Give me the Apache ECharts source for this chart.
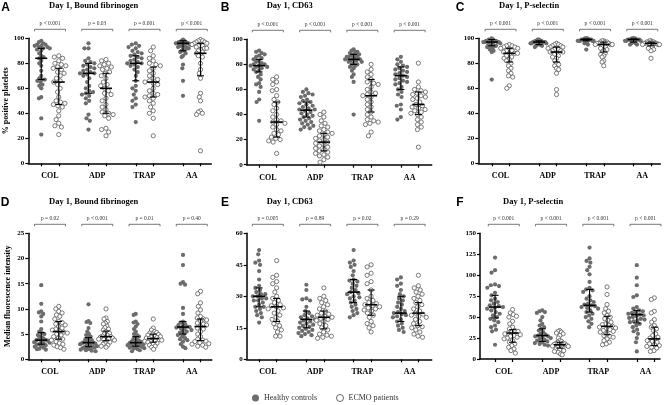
<!DOCTYPE html>
<html><head><meta charset="utf-8">
<script src="https://cdn.jsdelivr.net/npm/echarts@6/dist/echarts.min.js"></script>
<style>html,body{margin:0;padding:0;background:#fff}#c{width:669px;height:405px}</style>
</head><body><div id="c"></div>
<script>
const categories = ['COL', 'ADP', 'TRAP', 'AA'];
const cohortNames = ['Healthy controls', 'ECMO patients'];

// ---- Panel A: Day 1, Bound fibrinogen (% positive platelets)
const fibPctTicks = [0, 20, 40, 60, 80, 100];
const fibPctHealthy = [
  [98,97,96,95,95,94,94,93,93,92,92,91,90,88,86,85,84,82,80,78,74,70,68,67,67,66,65,63,62,60,53,52,36,23],
  [96,92,92,84,82,81,80,79,78,77,76,75,74,73,72,72,71,70,68,65,62,60,58,57,56,55,54,52,50,48,39,36,34,27],
  [96,95,94,93,92,90,89,88,87,86,85,84,83,82,81,80,80,79,78,77,75,73,70,66,62,60,58,55,52,50,47,45,33],
  [99,98,98,97,97,97,96,96,96,96,95,95,95,94,94,94,93,93,92,92,91,90,90,89,88,86,85,79,76,66,54]
];
const fibPctEcmo = [
  [86,85,84,82,80,79,78,77,76,75,73,72,70,68,66,65,63,60,57,53,50,49,48,47,46,45,42,38,35,32,30,29,23],
  [83,82,80,79,78,77,76,75,73,72,70,68,65,63,62,60,58,56,55,52,50,47,45,43,41,40,39,38,36,28,27,25,22],
  [93,90,86,84,82,80,79,78,76,74,72,70,68,67,66,65,64,63,60,58,56,55,54,53,52,50,48,45,42,40,36,22],
  [99,98,98,97,97,96,96,95,95,94,94,93,92,92,91,90,89,88,87,86,85,80,75,72,68,56,53,50,42,41,40,39,10]
];
const fibPctHealthyStats = [[84,67,92],[72,56,80],[80,66,86],[96,90,98]];
const fibPctEcmoStats = [[65,47,76],[60,40,72],[65,53,77],[88,70,96]];
const fibPctP = ['p < 0.001', 'p = 0.03', 'p = 0.001', 'p < 0.001'];

// ---- Panel B: Day 1, CD63 (%)
const cd63PctTicks = [0, 20, 40, 60, 80, 100];
const cd63PctHealthy = [
  [91,90,89,88,87,86,85,84,83,82,81,80,80,79,79,78,78,77,76,75,74,72,70,68,65,64,62,58,52,50,35],
  [60,58,57,56,55,54,52,51,50,49,48,47,46,45,44,44,43,42,41,40,39,38,37,36,35,34,33,32,31,30,29,28],
  [92,91,90,90,89,88,88,87,87,86,86,85,85,84,84,84,83,83,82,82,81,80,80,79,78,77,75,72,70,66,40],
  [86,84,82,80,79,78,77,76,75,74,73,72,71,70,69,68,67,66,65,64,62,60,58,56,54,48,47,44,38,36]
];
const cd63PctEcmo = [
  [70,68,66,64,60,59,55,52,50,48,45,43,40,38,36,35,34,33,32,30,28,27,25,24,22,21,20,19,18,9],
  [42,40,38,35,33,31,30,28,27,26,25,24,23,22,21,20,19,18,17,16,15,14,13,12,11,10,9,8,7,6,4,2],
  [80,76,74,72,70,68,66,65,64,62,60,58,57,56,55,54,52,50,48,46,44,42,40,38,36,35,34,33,32,26,23],
  [81,66,62,60,59,58,57,56,55,54,53,52,50,48,47,46,45,44,43,42,41,40,38,36,34,32,30,28,14]
];
const cd63PctHealthyStats = [[79,74,84],[43.5,38,50],[84,80,88],[71,60,78]];
const cd63PctEcmoStats = [[34,22,50],[18,11,25],[55,42,68],[48,40,58]];
const cd63PctP = ['p < 0.001', 'p < 0.001', 'p < 0.001', 'p < 0.001'];

// ---- Panel C: Day 1, P-selectin (%)
const pselPctTicks = [0, 20, 40, 60, 80, 100];
const pselPctHealthy = [
  [100,99,99,99,98,98,98,98,97,97,97,97,96,96,96,95,95,94,94,93,93,92,91,90,89,67],
  [99,99,98,98,98,98,97,97,97,97,97,96,96,96,96,95,95,95,94,94,93],
  [100,100,100,99,99,99,99,99,99,98,98,98,98,98,97,97,96,95,91],
  [100,100,100,99,99,99,99,99,99,98,98,98,97,97,96,96,95,95]
];
const pselPctEcmo = [
  [95,94,94,93,93,92,92,91,90,90,89,88,88,87,86,85,84,83,82,80,78,76,74,72,70,69,62,60],
  [96,95,95,94,94,93,93,92,92,91,91,90,90,89,89,88,87,86,85,84,82,80,79,78,76,75,72,59,55],
  [98,98,97,97,97,96,96,96,95,95,95,94,94,93,92,91,90,89,88,87,86,85,82,81,78],
  [98,98,97,97,97,97,96,96,96,96,95,95,95,94,94,93,92,91,90,84]
];
const pselPctHealthyStats = [[97,94,99],[97,95,98],[99,98,99.5],[99,97,99.5]];
const pselPctEcmoStats = [[88,81,92],[89,81,93],[95,89,97],[96,94,97]];
const pselPctP = ['p < 0.001', 'p < 0.001', 'p < 0.001', 'p < 0.001'];

// ---- Panel D: Day 1, Bound fibrinogen (MFI)
const fibMfiTicks = [0, 5, 10, 15, 20, 25];
const fibMfiHealthy = [
  [14.7,11,9.5,9.3,9,8.5,7.5,6,5.5,5.2,5,4.8,4.5,4.2,4,3.9,3.8,3.7,3.5,3.4,3.3,3.2,3,2.9,2.8,2.6,2.5,2.3,2.1,2,1.9],
  [10.9,7.6,7.4,7.2,6.2,5.5,5,4.8,4.5,4.2,4,3.8,3.6,3.5,3.4,3.3,3.2,3.1,3,2.9,2.8,2.7,2.6,2.5,2.4,2.3,2.2,2.1,2,1.9,1.8,1.7,1.6],
  [9,8.8,7.5,7.3,7,6.5,6,5.5,5,4.8,4.5,4.2,4,3.8,3.6,3.5,3.4,3.3,3.2,3.1,3,2.9,2.8,2.7,2.6,2.5,2.4,2.3,2.2,2.1,2,1.8,1.6],
  [20.7,18.7,15.3,15,14.8,10.2,9,7.5,7.3,7,6.8,6.6,6.5,6.4,6.3,6.2,6,5.8,5.6,5.5,5.3,5,4.8,4.5,4.2,4,3.8,3.5,3,2.5,2.2]
];
const fibMfiEcmo = [
  [10.5,10,9.5,9.2,8.8,8.5,8,7.5,7.3,7,6.8,6.5,6.2,6,5.8,5.6,5.4,5.2,5,4.8,4.5,4.2,4,3.8,3.5,3.2,3,2.8,2.5,2.3,2],
  [10,8.2,8,7.5,7.2,7,6.6,6.3,6,5.8,5.5,5.2,5,4.8,4.6,4.5,4.4,4.3,4.2,4.1,4,3.9,3.8,3.6,3.4,3.2,3,2.8,2.6,2.4],
  [8,6.2,5.8,5.5,5.3,5.2,5,4.9,4.8,4.6,4.5,4.4,4.3,4.2,4.1,4,3.9,3.8,3.7,3.6,3.5,3.4,3.2,3,2.8,2.6,2.4,2],
  [13.5,13,11.2,10.5,9.8,9.2,8.5,8.2,8,7.8,7.5,7.2,7,6.8,6.5,6.2,6,5.5,5,4.5,4,3.8,3.6,3.5,3.3,3.1,3,2.8,2.6,2.4]
];
const fibMfiHealthyStats = [[3.8,3,5.3],[3.3,2.5,4.3],[3.3,2.6,4.5],[6.4,5,7.5]];
const fibMfiEcmoStats = [[5.5,4,7.5],[4.5,3.7,5.6],[4.1,3.4,5],[6.5,3.7,8]];
const fibMfiP = ['p = 0.02', 'p < 0.001', 'p = 0.01', 'p = 0.40'];

// ---- Panel E: Day 1, CD63 (MFI)
const cd63MfiTicks = [0, 15, 30, 45, 60];
const cd63MfiHealthy = [
  [52,50,47,46,45,42,38,35,34,33,32,31,31,30,30,29,29,28,28,27,26,25,25,24,23,22,21,20,17.5],
  [35.5,33,29,28.5,28,25,23,22,21,20.5,20,19.5,19,18.5,18,17.5,17,16.5,16,15.5,15,14.5,14,13.5,13,12.5,12,11.5,11],
  [52,47,46,45,44,42,40,38,37.5,37,36,35,34,33,32,31.5,31,30,29.5,29,28,27,26,25,24,23,22,21,20],
  [39,38,36,35,33,31,30,29,28,27,26,25,24,23,22.5,22,21.5,21,20.5,20,19,18,17,16,15,14,13]
];
const cd63MfiEcmo = [
  [47,40,39,37,36,34,32,30,29,28,27,26,25.5,25,24.5,24,23,22,21,20,19,18,17,16,15,14,13,11,11],
  [34,30,29,28,27,26,25,24,23,22,21.5,21,20.5,20,19.5,19,18.5,18,17,16,15,14,13,12,11.5,11,10.5,10],
  [45,44,41,40,37,36,33,30,29,28,27,26.5,26,25.5,25,24.5,24,23.5,23,22,21,20,18,17,16,15,13],
  [40,35,34,33,32,31,30,29,28,27,26,25,24,23,22,21.5,21,20.5,20,19,18,17,16,15.5,15,14,13,12,11,10.5]
];
const cd63MfiHealthyStats = [[30,25,34],[19,15,23],[32,27,38],[22,18,30]];
const cd63MfiEcmoStats = [[25,18,29],[20,14.5,23],[26,21,33],[22,16,27]];
const cd63MfiP = ['p = 0.005', 'p = 0.89', 'p = 0.02', 'p = 0.29'];

// ---- Panel F: Day 1, P-selectin (MFI)
const pselMfiTicks = [0, 25, 50, 75, 100, 125, 150];
const pselMfiHealthy = [
  [121,106,103,89,88,87,85,79,76,72,70,68,66,64,63,62,61,60,58,56,54,52,50,48,46,44,40,38,35,33,17],
  [58,57,56,55,50,46,42,40,38,36,34,32,30,29,28,27,27,26,25,24,23,22,21,20,19,18,17,16],
  [133,120,117,115,110,106,101,92,85,83,82,80,75,72,70,68,66,65,64,63,62,61,60,58,56,54,52,50,48,45,42,38],
  [112,97,88,76,74,62,60,58,57,56,55,54,53,52,51,50,49,48,47,46,45,44,42,40,38,35,33,30,25,20,9]
];
const pselMfiEcmo = [
  [59,55,53,51,50,45,42,38,36,34,33,32,31,30,29,28,27,26,25,24,22,20,18,16,14,12,10,7],
  [34,33,32,31,30,28,25,22,21,20,19,18.5,18,17.5,17,16.5,16,15.5,15,14,13,12,11,10,9,8,6,5],
  [86,77,65,60,57,55,52,50,48,46,44,42,41,40,39,38,37,36,35,34,33,32,30,28,27,26,24,22,20,18,17],
  [73,71,57,55,47,44,40,38,36,34,30,28,26,25,24,23,22,21,20,19,18,17,16,15,14,13,12,10,9]
];
const pselMfiHealthyStats = [[62,49,76],[28,21,36],[64,56,83],[53,43,58]];
const pselMfiEcmoStats = [[31,20,35],[17,13,20],[39,29,51],[24,16,38]];
const pselMfiP = ['p < 0.001', 'p < 0.001', 'p < 0.001', 'p < 0.001'];

const titles = ['Day 1, Bound fibrinogen', 'Day 1, CD63', 'Day 1, P-selectin',
                'Day 1, Bound fibrinogen', 'Day 1, CD63', 'Day 1, P-selectin'];
const letters = ['A', 'B', 'C', 'D', 'E', 'F'];
const yNames = ['% positive platelets', '', '', 'Median fluorescence intensity', '', ''];

// ---------- layout (pixels) ----------
const UNIT = 17.5;      // px per x unit
const PAIR = 2.7;       // distance between category centres (units)
const panels = [
  { grid:{left:28.3, top:38.3, width:183, height:125}, xMin:-1.24, ticks:fibPctTicks, h:fibPctHealthy, e:fibPctEcmo, hs:fibPctHealthyStats, es:fibPctEcmoStats, p:fibPctP, titleX:49, titleY:5.5, letterX:5.5, letterY:7.5 },
  { grid:{left:246.7, top:39.3, width:185, height:125.4}, xMin:-1.21, ticks:cd63PctTicks, h:cd63PctHealthy, e:cd63PctEcmo, hs:cd63PctHealthyStats, es:cd63PctEcmoStats, p:cd63PctP, titleX:266.7, titleY:5.5, letterX:225, letterY:7.5 },
  { grid:{left:478.3, top:38.3, width:182, height:125}, xMin:-1.27, ticks:pselPctTicks, h:pselPctHealthy, e:pselPctEcmo, hs:pselPctHealthyStats, es:pselPctEcmoStats, p:pselPctP, titleX:499, titleY:5.5, letterX:460, letterY:7.5 },
  { grid:{left:28.3, top:233.3, width:183.5, height:126}, xMin:-1.24, ticks:fibMfiTicks, h:fibMfiHealthy, e:fibMfiEcmo, hs:fibMfiHealthyStats, es:fibMfiEcmoStats, p:fibMfiP, titleX:49, titleY:201.5, letterX:5, letterY:202.5 },
  { grid:{left:246.7, top:233.3, width:185, height:126}, xMin:-1.21, ticks:cd63MfiTicks, h:cd63MfiHealthy, e:cd63MfiEcmo, hs:cd63MfiHealthyStats, es:cd63MfiEcmoStats, p:cd63MfiP, titleX:266.7, titleY:201.5, letterX:225, letterY:202.5 },
  { grid:{left:480, top:233.3, width:180, height:125.7}, xMin:-1.36, ticks:pselMfiTicks, h:pselMfiHealthy, e:pselMfiEcmo, hs:pselMfiHealthyStats, es:pselMfiEcmoStats, p:pselMfiP, titleX:503, titleY:201.5, letterX:460, letterY:202.5 }
];

// beeswarm offsets (pixels) computed from the values
function swarm(values, pxPerVal, d, maxHalf) {
  const idx = values.map((v, i) => i).sort((a, b) => values[b] - values[a]);
  const placed = [], off = new Array(values.length);
  for (const i of idx) {
    const y = values[i] * pxPerVal;
    const iv = [];
    for (const p of placed) {
      const dy = Math.abs(p.y - y);
      if (dy < d) { const w = Math.sqrt(d * d - dy * dy); iv.push([p.x - w, p.x + w]); }
    }
    const cands = [0];
    iv.forEach(r => cands.push(r[0], r[1]));
    cands.sort((a, b) => Math.abs(a) - Math.abs(b) || a - b);
    let x = 0;
    for (const c of cands) {
      if (iv.every(r => c <= r[0] + 1e-6 || c >= r[1] - 1e-6)) { x = c; break; }
    }
    placed.push({ x, y }); off[i] = x;
  }
  const m = Math.max(...off.map(Math.abs));
  const s = m > maxHalf ? maxHalf / m : 1;
  return off.map(o => o * s);
}

const SERIF = '"Liberation Serif", "Times New Roman", serif';
const grids = [], xAxes = [], yAxes = [], series = [], graphics = [];

panels.forEach((P, i) => {
  const yMax = P.ticks[P.ticks.length - 1];
  const yInt = P.ticks[1] - P.ticks[0];
  const xMax = P.xMin + P.grid.width / UNIT;
  const pxPerVal = P.grid.height / yMax;
  grids.push(Object.assign({ containLabel: false }, P.grid));
  const colPos = [], centers = [];
  categories.forEach((c, k) => { centers.push(k * PAIR); colPos.push(k * PAIR - 0.5, k * PAIR + 0.5); });
  xAxes.push({
    type: 'value', gridIndex: i, min: P.xMin, max: xMax,
    axisLine: { show: true, onZero: false, lineStyle: { color: '#000', width: 1.5 } },
    axisTick: { show: true, customValues: colPos, length: 3, lineStyle: { color: '#000', width: 1.2 } },
    axisLabel: { show: true, customValues: centers, margin: 9, color: '#000', fontFamily: SERIF, fontWeight: 'bold', fontSize: 8,
      formatter: v => categories[Math.round(v / PAIR)] },
    splitLine: { show: false }
  });
  yAxes.push({
    type: 'value', gridIndex: i, min: 0, max: yMax, interval: yInt,
    name: yNames[i], nameLocation: 'middle', nameGap: 16, nameRotate: 90,
    nameTextStyle: { fontFamily: SERIF, fontWeight: 'bold', fontSize: 8, color: '#000' },
    axisLine: { show: true, onZero: false, lineStyle: { color: '#000', width: 1.5 } },
    axisTick: { show: true, length: 3, lineStyle: { color: '#000', width: 1.2 } },
    axisLabel: { margin: 4, color: '#000', fontFamily: SERIF, fontWeight: 'bold', fontSize: 7 },
    splitLine: { show: false }
  });
  const hData = [], eData = [], stats = [];
  categories.forEach((c, k) => {
    const hOff = swarm(P.h[k], pxPerVal, 4.3, 8.5);
    P.h[k].forEach((v, j) => hData.push([k * PAIR - 0.5 + hOff[j] / UNIT, v]));
    const eOff = swarm(P.e[k], pxPerVal, 4.6, 8.5);
    P.e[k].forEach((v, j) => eData.push([k * PAIR + 0.5 + eOff[j] / UNIT, v]));
    stats.push([k * PAIR - 0.5].concat(P.hs[k]));
    stats.push([k * PAIR + 0.5].concat(P.es[k]));
  });
  series.push({
    name: cohortNames[0], type: 'scatter', xAxisIndex: i, yAxisIndex: i, data: hData,
    symbol: 'circle', symbolSize: 4.2, itemStyle: { color: '#6c6c6c', opacity: 1 }, z: 2
  });
  series.push({
    name: cohortNames[1], type: 'scatter', xAxisIndex: i, yAxisIndex: i, data: eData,
    symbol: 'circle', symbolSize: 4.2, itemStyle: { color: '#fff', borderColor: '#5a5a5a', borderWidth: 0.8, opacity: 1 }, z: 2
  });
  series.push({
    name: 'stats' + i, type: 'custom', xAxisIndex: i, yAxisIndex: i, data: stats, z: 5, clip: false,
    encode: { x: 0, y: [1, 2, 3] },
    renderItem: (params, api) => {
      const x = api.value(0);
      const pm = api.coord([x, api.value(1)]), p1 = api.coord([x, api.value(2)]), p3 = api.coord([x, api.value(3)]);
      const st = { stroke: '#000', lineWidth: 1.1 };
      return { type: 'group', children: [
        { type: 'line', shape: { x1: pm[0] - 6, y1: pm[1], x2: pm[0] + 6, y2: pm[1] }, style: { stroke: '#000', lineWidth: 1.6 } },
        { type: 'line', shape: { x1: p1[0], y1: p1[1], x2: p3[0], y2: p3[1] }, style: st },
        { type: 'line', shape: { x1: p1[0] - 3.5, y1: p1[1], x2: p1[0] + 3.5, y2: p1[1] }, style: st },
        { type: 'line', shape: { x1: p3[0] - 3.5, y1: p3[1], x2: p3[0] + 3.5, y2: p3[1] }, style: st }
      ] };
    }
  });
  const pv = P.p;
  series.push({
    name: 'p' + i, type: 'custom', xAxisIndex: i, yAxisIndex: i, z: 5, clip: false,
    data: categories.map((c, k) => [k * PAIR, yMax]),
    encode: { x: 0, y: 1 },
    renderItem: (params, api) => {
      const c = api.coord([api.value(0), api.value(1)]);
      const by = c[1] - 9, ty = c[1] - 14.5, hw = 15.5;
      return { type: 'group', children: [
        { type: 'polyline', shape: { points: [[c[0] - hw, by + 2], [c[0] - hw, by], [c[0] + hw, by], [c[0] + hw, by + 2]] },
          style: { stroke: '#555', lineWidth: 0.8, fill: null } },
        { type: 'text', x: c[0], y: ty, style: { text: pv[params.dataIndex], align: 'center', verticalAlign: 'middle',
          font: '5.5px ' + SERIF, fill: '#333' } }
      ] };
    }
  });
  graphics.push({ type: 'text', x: P.titleX, y: P.titleY,
    style: { text: titles[i], font: 'bold 8.5px ' + SERIF, fill: '#000', verticalAlign: 'middle' } });
  graphics.push({ type: 'text', x: P.letterX, y: P.letterY,
    style: { text: letters[i], font: 'bold 12px "Liberation Sans", Arial, sans-serif', fill: '#000', align: 'center', verticalAlign: 'middle' } });
});

const chart = echarts.init(document.getElementById('c'), null, { renderer: 'canvas' });
chart.setOption({
  animation: false,
  backgroundColor: '#fff',
  grid: grids, xAxis: xAxes, yAxis: yAxes, series: series,
  graphic: graphics,
  legend: {
    left: 247, top: 389, padding: 5, itemWidth: 7, itemHeight: 7, itemGap: 19,
    textStyle: { fontFamily: SERIF, fontSize: 8, color: '#333' },
    data: [
      { name: cohortNames[0], icon: 'circle', itemStyle: { color: '#6c6c6c' } },
      { name: cohortNames[1], icon: 'circle', itemStyle: { color: '#fff', borderColor: '#444', borderWidth: 0.8 } }
    ]
  }
});
</script></body></html>
